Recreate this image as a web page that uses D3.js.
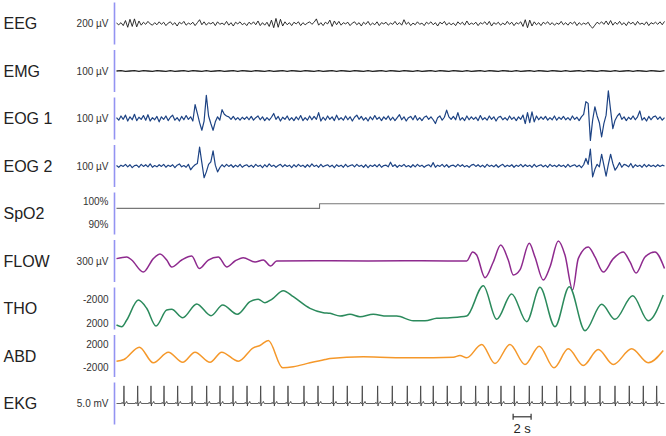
<!DOCTYPE html>
<html lang="en">
<head>
<meta charset="UTF-8">
<title>Polysomnography</title>
<script src="https://d3js.org/d3.v7.min.js"></script>
<style>
  body { margin: 0; background: #fff; }
  svg { display: block; font-family: Arial, "Liberation Sans", sans-serif; }
</style>
</head>
<body>
<svg width="666" height="436"></svg>
<script>
// channel names
const channels = ["EEG", "EMG", "EOG 1", "EOG 2", "SpO2", "FLOW", "THO", "ABD", "EKG"];

// EEG, µV, every 0.25 s
const eeg = [2,-6,4,-10,14,-18,20,-14,22,-16,12,-8,6,-4,10,-2,-8,4,-6,8,
  -4,6,-10,2,8,-6,4,-12,6,-2,10,-8,2,-4,6,-10,4,18,-6,8,
  -8,4,-2,6,-10,8,-4,2,-6,10,-8,4,-12,6,-2,8,-6,2,-10,6,
  -4,8,-6,12,-10,4,-8,6,-14,16,-20,24,-18,20,-12,8,-6,4,-10,6,
  -2,8,-10,4,-6,2,8,-4,6,22,-8,4,-10,6,-2,16,-14,12,-6,10,
  -8,4,-2,6,-10,2,8,-6,4,-12,6,-4,10,-8,2,-6,8,-10,4,-2,
  6,-8,2,-4,10,-6,4,-8,18,-4,6,-10,2,-6,8,-4,2,-10,6,-2,
  8,-6,4,-12,6,-2,10,-8,4,-6,2,-10,8,-4,6,-8,12,-6,2,-4,
  6,-10,4,-2,8,-6,10,-12,4,-4,6,-8,2,-6,10,-4,6,-10,4,-2,
  8,-14,18,-20,16,-12,8,-6,4,-10,6,-2,8,-6,4,-8,2,-4,10,-6,
  4,-8,6,-2,8,-10,4,-6,2,-4,6,-12,-22,-8,6,-2,8,-4,12,-6,
  14,-8,6,-4,10,-6,4,-10,8,-2,6,-8,10,-4,2,-6,8,-10,4,-2,
  6,-4,8,-6,10];

// EMG, µV, every 0.5 s
const emg = [0,1,-1,0,1,-1,1,0,-1,1,0,-1,1,-1,0,1,-1,1,0,-1,
  1,-1,0,1,-1,0,1,-1,1,0,-1,1,0,-1,1,-1,0,1,-1,1,
  0,-1,1,0,-1,1,-1,0,1,-1,1,0,-1,1,0,-1,1,-1,0,1,
  -1,1,0,-1,1,0,-1,1,-1,0,1,-1,1,0,-1,1,0,-1,1,-1,
  0,1,-1,1,0,-1,1,0,-1,1,-1,0,1,-1,1,0,-1,1,0,-1,
  1,-1,0,1,-1,1,0,-1,1,0,-1,1,-1,0,1,-1,1,0,-1,1,
  0,-1,1];

// EOG 1, µV, every 0.25 s
const eog1 = [2,-4,6,-2,8,-6,4,-3,10,-5,3,-2,7,-4,9,-6,2,-3,5,-8,
  4,-2,6,-5,3,8,-4,2,-6,5,-3,7,-2,4,-6,33,12,-10,-28,-6,
  55,6,-12,-28,-8,4,-4,21,10,6,4,-2,5,-3,2,-4,3,-2,4,-3,
  5,-4,2,6,-3,4,-5,2,-4,3,12,-2,5,-6,3,-2,6,-4,2,-5,
  4,-3,7,-5,2,-4,6,-3,5,-2,14,-6,3,-4,6,-2,4,-5,8,-3,
  2,-4,6,-3,4,-6,3,8,-2,5,-4,2,-6,4,-3,7,-2,3,-5,4,
  -2,6,-4,3,-5,2,9,-3,4,-6,2,5,-3,7,-4,2,-5,3,6,-2,
  4,-3,-12,2,6,-4,3,20,4,-2,5,-3,14,-4,2,-5,6,-3,4,-2,
  3,-5,7,-3,2,-4,6,-2,4,-6,3,5,-3,2,-4,6,-2,3,-5,4,
  -2,8,-12,14,-10,16,-8,6,-3,4,-2,5,-4,2,-3,6,-4,3,-2,5,
  -3,2,-4,6,-2,3,-5,4,10,40,36,-52,-4,28,6,-10,-44,-12,8,66,
  20,-24,-4,6,12,-2,4,-5,3,-2,6,-3,4,18,-4,2,-6,5,-3,4,
  6,-2,4,-4,2];

// EOG 2, µV, every 0.25 s
const eog2 = [1,-3,2,-1,4,-2,3,-4,1,2,-3,4,-1,3,-2,5,-3,1,-2,3,
  -1,4,-3,2,-1,3,-4,2,5,-2,1,-3,4,-9,-2,3,6,45,8,-28,
  -14,4,10,36,2,-14,-4,3,-2,4,-1,3,-3,2,-2,4,-3,1,3,-2,
  2,-3,4,-1,2,-4,3,-2,5,-1,2,-3,1,4,-2,3,-1,2,-4,3,
  -2,4,-1,2,-3,3,-2,5,-1,2,-3,4,-2,1,3,-2,2,-4,3,-1,
  2,-3,4,-2,1,3,-2,4,-1,2,-3,3,-4,2,-1,3,-2,4,-3,1,
  2,-2,9,-1,3,-3,2,-1,4,-2,1,-3,3,-2,4,-1,2,-3,1,3,
  -2,8,-3,2,-1,4,-2,3,-3,1,2,-2,4,-1,3,-2,1,-3,2,4,
  -1,3,-2,2,-3,4,-1,2,-2,3,-3,1,4,-2,2,-1,3,-3,2,-1,
  4,-2,3,-1,2,-3,4,-2,1,3,-2,2,-3,4,-1,2,-2,3,-1,2,
  -3,4,-2,1,3,-2,2,-4,3,18,4,40,-26,-8,4,-2,28,2,-24,4,
  28,6,-10,-2,8,-3,4,2,-2,6,-4,3,-1,2,-3,4,-2,3,-1,2,
  -2,3,-1,2,0];

// SpO2, %
const spo2T = [0, 22.6, 61];
const spo2V = [97, 99, 99];

// FLOW, µV
const flowT = [0,1.14,1.69,2.98,4.10,4.84,5.59,6.14,7.26,8.37,9.22,10.22,11.33,12.27,13.19,14.11,15.42,16.34,17.16,17.83,
  22,28,34,38.98,39.65,40.09,41.02,41.94,42.77,43.61,44.17,44.91,45.95,46.58,47.51,48.25,49.18,49.92,50.78,
  51.40,52.52,53.26,54.19,55.30,56.41,57.16,57.83,58.83,59.94,61];
const flowV = [17,29,7,-79,17,50,7,-43,7,36,-54,7,29,-43,0,24,-7,7,-36,0,
  2,0,2,0,64,43,-119,-7,114,7,-100,-64,126,29,-136,-43,143,43,-207,
  17,100,29,-79,17,64,-7,-86,29,64,-54];

// THO
const thoT = [0,0.58,1.14,2.43,3.36,4.40,5.59,6.14,7.37,8.93,10.52,11.82,13.45,14.86,15.78,16.53,17.28,18.57,19.68,21.54,
  23.02,23.77,24.88,25.99,27.10,28.58,30.08,31.19,33.04,34.34,35.64,37.12,38.98,40.83,42.32,43.99,45.66,47.14,48.81,
  50.40,52.15,54.01,55.49,57.46,59.19,60.86];
const thoV = [2333,2617,1500,-1833,-450,2500,-167,-283,1117,-1167,783,-1000,550,-1550,-1950,-1383,-1950,-3383,-2383,-450,
  283,383,833,550,950,550,833,833,1617,1617,1217,1117,833,-4217,1383,-2833,1783,-3950,2617,
  -4050,3283,-1117,1383,-2550,1617,-2667];

// ABD
const abdT = [0,0.83,2.54,4.10,5.77,7.37,8.74,10.41,11.71,13.56,15.23,15.97,16.90,18.50,19.68,21.54,23.21,
  23.77,27.47,29.33,33.04,37.49,38.23,38.98,40.65,42.13,43.80,45.47,47.06,48.70,50.29,51.96,53.63,55.30,57.35,59.19,60.86];
const abdV = [-905,-609,1531,-1183,661,-1079,661,-1079,661,-905,1427,1827,2697,-2053,-1879,-1183,-609,
  -435,-139,-209,-313,-209,87,-313,2001,-1305,2001,-1479,1705,-2053,1253,-1653,1131,-1479,1253,-1183,957];

// EKG: R-peak times (s) and one beat shape (s from R, mV)
const beatTimes = [0.83,2.36,3.84,5.29,6.81,8.40,10.04,11.52,12.97,14.53,16.05,17.53,19.09,20.87,22.43,
  24.13,25.69,27.36,29.07,30.70,32.37,33.86,35.26,36.82,38.35,39.98,41.38,42.80,44.28,45.95,47.40,
  49.00,50.56,52.15,53.82,55.49,57.08,58.64,60.13];
const beatShapeT = [-0.26,-0.2,-0.14,-0.04,0,0.04,0.08,0.22,0.3,0.4];
const beatShapeV = [0,0.15,0,0,2.1,-0.3,0,0.05,0.25,0];

const scaleLabels = ["200 µV", "100 µV", "100 µV", "100 µV", null, "300 µV", null, null, "5.0 mV"];

const svg = d3.select("svg");
const x = d3.scaleLinear().domain([0, 61]).range([116.5, 664.5]);
const slot = d3.scalePoint().domain(channels).range([23.5, 403.5]);
const half = 21;

function yFor(name, lo, hi, top, bottom) {
  const c = slot(name);
  return d3.scaleLinear().domain([lo, hi]).range([c + bottom, c - top]);
}

const yS = {
  "EEG": yFor("EEG", -100, 100, half, half),
  "EMG": yFor("EMG", -50, 50, half, half),
  "EOG 1": yFor("EOG 1", -50, 50, half, half),
  "EOG 2": yFor("EOG 2", -50, 50, half, half),
  "SpO2": yFor("SpO2", 90, 100, 12, 11),
  "FLOW": yFor("FLOW", -150, 150, half, half),
  "THO": yFor("THO", 2000, -2000, 9.5, 14.5),   // inverted: -2000 on top
  "ABD": yFor("ABD", -2000, 2000, 11.5, 11.5),
  "EKG": yFor("EKG", -2.5, 2.5, half, half)
};

const even = arr => arr.map((v, i) => [i * 61 / (arr.length - 1), v]);
const pairs = (ts, vs) => ts.map((t, i) => [t, vs[i]]);

const ekg = [[0, 0]];
beatTimes.forEach(bt => beatShapeT.forEach((dt, i) => ekg.push([bt + dt, beatShapeV[i]])));
ekg.push([61, 0]);

const series = [
  { name: "EEG", data: even(eeg), color: "#1a1a1a", w: 0.9, curve: d3.curveLinear },
  { name: "EMG", data: even(emg), color: "#222", w: 1.3, curve: d3.curveLinear },
  { name: "EOG 1", data: even(eog1), color: "#1d4384", w: 1.2, curve: d3.curveLinear },
  { name: "EOG 2", data: even(eog2), color: "#1d4384", w: 1.2, curve: d3.curveLinear },
  { name: "SpO2", data: pairs(spo2T, spo2V), color: "#777", w: 1.1, curve: d3.curveStepAfter },
  { name: "FLOW", data: pairs(flowT, flowV), color: "#8e2a8e", w: 1.5, curve: d3.curveMonotoneX },
  { name: "THO", data: pairs(thoT, thoV), color: "#2b8a5c", w: 1.5, curve: d3.curveMonotoneX },
  { name: "ABD", data: pairs(abdT, abdV), color: "#f5982a", w: 1.5, curve: d3.curveMonotoneX },
  { name: "EKG", data: ekg, color: "#3a3a3a", w: 0.8, curve: d3.curveLinear }
];

// vertical blue bars
svg.append("g").selectAll("line")
  .data(channels)
  .join("line")
  .attr("x1", 114.5).attr("x2", 114.5)
  .attr("y1", d => slot(d) - half).attr("y2", d => slot(d) + half)
  .attr("stroke", "#9393f2").attr("stroke-width", 1.6);

// channel names
svg.append("g").selectAll("text")
  .data(channels)
  .join("text")
  .attr("x", 3.5).attr("y", d => slot(d))
  .attr("dy", "0.35em")
  .attr("font-size", 16).attr("fill", "#222")
  .text(d => d);

// scale labels
const lab = svg.append("g").attr("font-size", 10).attr("fill", "#333").attr("text-anchor", "end");
channels.forEach((c, i) => {
  if (scaleLabels[i]) lab.append("text").attr("x", 108.5).attr("y", slot(c)).attr("dy", "0.35em").text(scaleLabels[i]);
});
[["SpO2", 100, "100%"], ["SpO2", 90, "90%"], ["THO", -2000, "-2000"], ["THO", 2000, "2000"],
 ["ABD", 2000, "2000"], ["ABD", -2000, "-2000"]].forEach(([c, v, t]) => {
  lab.append("text").attr("x", 108.5).attr("y", yS[c](v)).attr("dy", "0.35em").text(t);
});

// signals
series.forEach(s => {
  const line = d3.line().x(d => x(d[0])).y(d => yS[s.name](d[1])).curve(s.curve);
  svg.append("path")
    .attr("d", line(s.data))
    .attr("fill", "none")
    .attr("stroke", s.color)
    .attr("stroke-width", s.w)
    .attr("stroke-linejoin", "round");
});

// 2 s scale bar
const sb = svg.append("g").attr("stroke", "#333").attr("stroke-width", 1.2);
const x0 = x(44.15), x1 = x(46.15), yb = 416.8;
sb.append("line").attr("x1", x0).attr("x2", x1).attr("y1", yb).attr("y2", yb);
sb.append("line").attr("x1", x0).attr("x2", x0).attr("y1", yb - 3).attr("y2", yb + 3);
sb.append("line").attr("x1", x1).attr("x2", x1).attr("y1", yb - 3).attr("y2", yb + 3);
svg.append("text").attr("x", (x0 + x1) / 2).attr("y", 432.5)
  .attr("text-anchor", "middle").attr("font-size", 13).attr("fill", "#222").text("2 s");
</script>
</body>
</html>
